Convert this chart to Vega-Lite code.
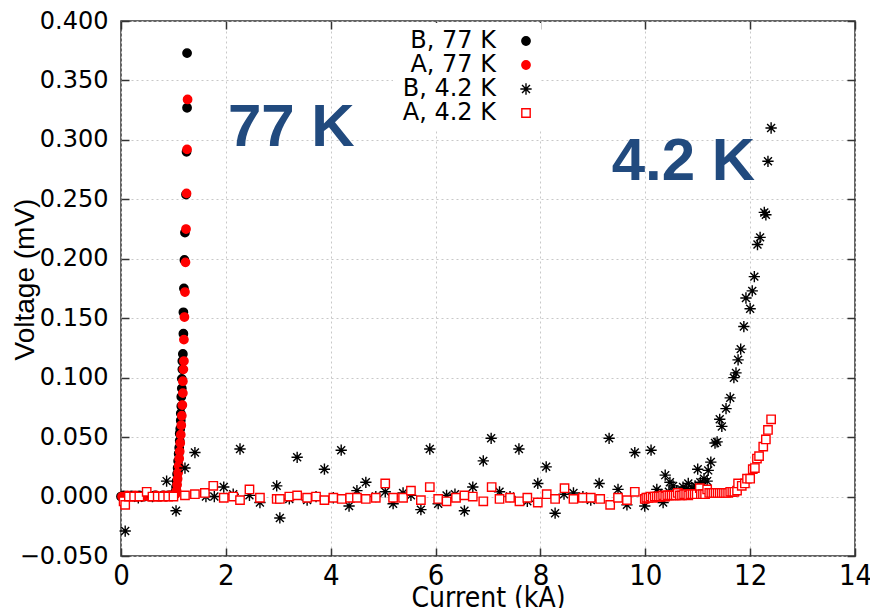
{
  "$schema": "https://vega.github.io/schema/vega-lite/v6.json",
  "width": 734,
  "height": 535,
  "autosize": "none",
  "padding": {"left": 121, "top": 21, "right": 15, "bottom": 52},
  "background": "white",
  "config": {
    "view": {"stroke": "#333333", "strokeWidth": 1.5},
    "axis": {"domain": false, "labelColor": "black", "titleColor": "black", "tickColor": "#333333", "tickWidth": 1.5, "tickSize": -8, "gridColor": "#c8c8c8", "gridDash": [2, 3], "gridWidth": 1}
  },
  "datasets": {
    "pts": [
      {"s":"B, 77 K","I":0.00,"V":0.000},{"s":"B, 77 K","I":0.05,"V":0.001},{"s":"B, 77 K","I":0.10,"V":0.000},{"s":"B, 77 K","I":0.15,"V":0.000},{"s":"B, 77 K","I":0.20,"V":0.001},{"s":"B, 77 K","I":0.25,"V":0.000},{"s":"B, 77 K","I":0.30,"V":0.000},{"s":"B, 77 K","I":0.35,"V":0.001},{"s":"B, 77 K","I":0.40,"V":0.000},{"s":"B, 77 K","I":0.45,"V":0.000},{"s":"B, 77 K","I":0.50,"V":0.001},{"s":"B, 77 K","I":0.55,"V":0.000},{"s":"B, 77 K","I":0.60,"V":0.000},{"s":"B, 77 K","I":0.65,"V":0.001},{"s":"B, 77 K","I":0.70,"V":0.000},{"s":"B, 77 K","I":0.75,"V":0.000},{"s":"B, 77 K","I":0.80,"V":0.001},{"s":"B, 77 K","I":0.85,"V":0.000},{"s":"B, 77 K","I":0.90,"V":0.001},{"s":"B, 77 K","I":0.95,"V":0.001},{"s":"B, 77 K","I":1.00,"V":0.001},
      {"s":"B, 77 K","I":1.02,"V":0.002},{"s":"B, 77 K","I":1.04,"V":0.004},{"s":"B, 77 K","I":1.05,"V":0.008},{"s":"B, 77 K","I":1.06,"V":0.013},{"s":"B, 77 K","I":1.07,"V":0.019},{"s":"B, 77 K","I":1.08,"V":0.024},{"s":"B, 77 K","I":1.09,"V":0.030},{"s":"B, 77 K","I":1.10,"V":0.036},{"s":"B, 77 K","I":1.11,"V":0.041},{"s":"B, 77 K","I":1.12,"V":0.047},{"s":"B, 77 K","I":1.12,"V":0.053},{"s":"B, 77 K","I":1.13,"V":0.057},{"s":"B, 77 K","I":1.14,"V":0.064},{"s":"B, 77 K","I":1.14,"V":0.070},{"s":"B, 77 K","I":1.15,"V":0.076},{"s":"B, 77 K","I":1.15,"V":0.084},{"s":"B, 77 K","I":1.16,"V":0.091},{"s":"B, 77 K","I":1.16,"V":0.099},{"s":"B, 77 K","I":1.17,"V":0.107},{"s":"B, 77 K","I":1.17,"V":0.114},{"s":"B, 77 K","I":1.18,"V":0.120},{"s":"B, 77 K","I":1.19,"V":0.137},{"s":"B, 77 K","I":1.19,"V":0.155},{"s":"B, 77 K","I":1.20,"V":0.175},{"s":"B, 77 K","I":1.21,"V":0.199},{"s":"B, 77 K","I":1.22,"V":0.222},{"s":"B, 77 K","I":1.24,"V":0.254},{"s":"B, 77 K","I":1.25,"V":0.290},{"s":"B, 77 K","I":1.26,"V":0.327},{"s":"B, 77 K","I":1.26,"V":0.373},
      {"s":"A, 77 K","I":0.02,"V":0.000},{"s":"A, 77 K","I":0.07,"V":0.000},{"s":"A, 77 K","I":0.12,"V":0.001},{"s":"A, 77 K","I":0.17,"V":0.000},{"s":"A, 77 K","I":0.22,"V":0.000},{"s":"A, 77 K","I":0.27,"V":0.001},{"s":"A, 77 K","I":0.32,"V":0.000},{"s":"A, 77 K","I":0.37,"V":0.000},{"s":"A, 77 K","I":0.42,"V":0.000},{"s":"A, 77 K","I":0.47,"V":0.001},{"s":"A, 77 K","I":0.52,"V":0.000},{"s":"A, 77 K","I":0.57,"V":0.000},{"s":"A, 77 K","I":0.62,"V":0.000},{"s":"A, 77 K","I":0.67,"V":0.001},{"s":"A, 77 K","I":0.72,"V":0.000},{"s":"A, 77 K","I":0.77,"V":0.000},{"s":"A, 77 K","I":0.82,"V":0.001},{"s":"A, 77 K","I":0.87,"V":0.000},{"s":"A, 77 K","I":0.92,"V":0.001},{"s":"A, 77 K","I":0.97,"V":0.001},{"s":"A, 77 K","I":1.01,"V":0.001},
      {"s":"A, 77 K","I":1.04,"V":0.002},{"s":"A, 77 K","I":1.06,"V":0.005},{"s":"A, 77 K","I":1.07,"V":0.010},{"s":"A, 77 K","I":1.08,"V":0.015},{"s":"A, 77 K","I":1.09,"V":0.020},{"s":"A, 77 K","I":1.10,"V":0.026},{"s":"A, 77 K","I":1.11,"V":0.032},{"s":"A, 77 K","I":1.12,"V":0.038},{"s":"A, 77 K","I":1.13,"V":0.045},{"s":"A, 77 K","I":1.14,"V":0.052},{"s":"A, 77 K","I":1.15,"V":0.060},{"s":"A, 77 K","I":1.16,"V":0.068},{"s":"A, 77 K","I":1.17,"V":0.077},{"s":"A, 77 K","I":1.18,"V":0.087},{"s":"A, 77 K","I":1.18,"V":0.097},{"s":"A, 77 K","I":1.19,"V":0.107},{"s":"A, 77 K","I":1.20,"V":0.114},{"s":"A, 77 K","I":1.20,"V":0.132},{"s":"A, 77 K","I":1.21,"V":0.151},{"s":"A, 77 K","I":1.22,"V":0.172},{"s":"A, 77 K","I":1.23,"V":0.197},{"s":"A, 77 K","I":1.24,"V":0.225},{"s":"A, 77 K","I":1.25,"V":0.255},{"s":"A, 77 K","I":1.26,"V":0.292},{"s":"A, 77 K","I":1.27,"V":0.334},
      {"s":"B, 4.2 K","I":0.08,"V":-0.029},{"s":"B, 4.2 K","I":0.33,"V":-0.001},{"s":"B, 4.2 K","I":0.60,"V":0.000},{"s":"B, 4.2 K","I":0.87,"V":0.013},{"s":"B, 4.2 K","I":1.05,"V":-0.012},{"s":"B, 4.2 K","I":1.22,"V":0.024},{"s":"B, 4.2 K","I":1.41,"V":0.037},{"s":"B, 4.2 K","I":1.62,"V":0.000},{"s":"B, 4.2 K","I":1.78,"V":0.000},{"s":"B, 4.2 K","I":1.96,"V":0.008},{"s":"B, 4.2 K","I":2.14,"V":0.002},{"s":"B, 4.2 K","I":2.27,"V":0.040},{"s":"B, 4.2 K","I":2.45,"V":0.001},{"s":"B, 4.2 K","I":2.65,"V":-0.005},{"s":"B, 4.2 K","I":2.97,"V":0.009},{"s":"B, 4.2 K","I":3.03,"V":-0.018},{"s":"B, 4.2 K","I":3.21,"V":-0.002},{"s":"B, 4.2 K","I":3.36,"V":0.033},{"s":"B, 4.2 K","I":3.55,"V":-0.003},{"s":"B, 4.2 K","I":3.72,"V":0.000},{"s":"B, 4.2 K","I":3.88,"V":0.023},{"s":"B, 4.2 K","I":4.05,"V":-0.001},{"s":"B, 4.2 K","I":4.20,"V":0.039},{"s":"B, 4.2 K","I":4.35,"V":-0.008},{"s":"B, 4.2 K","I":4.50,"V":0.005},{"s":"B, 4.2 K","I":4.67,"V":0.012},{"s":"B, 4.2 K","I":4.86,"V":0.000},{"s":"B, 4.2 K","I":5.04,"V":0.004},{"s":"B, 4.2 K","I":5.19,"V":-0.006},{"s":"B, 4.2 K","I":5.38,"V":0.003},{"s":"B, 4.2 K","I":5.53,"V":0.001},{"s":"B, 4.2 K","I":5.72,"V":-0.011},{"s":"B, 4.2 K","I":5.89,"V":0.040},{"s":"B, 4.2 K","I":6.05,"V":-0.006},{"s":"B, 4.2 K","I":6.21,"V":0.001},{"s":"B, 4.2 K","I":6.37,"V":0.002},{"s":"B, 4.2 K","I":6.55,"V":-0.012},{"s":"B, 4.2 K","I":6.71,"V":0.008},{"s":"B, 4.2 K","I":6.91,"V":0.030},{"s":"B, 4.2 K","I":7.06,"V":0.049},{"s":"B, 4.2 K","I":7.22,"V":0.004},{"s":"B, 4.2 K","I":7.42,"V":0.000},{"s":"B, 4.2 K","I":7.59,"V":0.040},{"s":"B, 4.2 K","I":7.75,"V":-0.004},{"s":"B, 4.2 K","I":7.95,"V":0.011},{"s":"B, 4.2 K","I":8.11,"V":0.025},{"s":"B, 4.2 K","I":8.28,"V":-0.014},{"s":"B, 4.2 K","I":8.45,"V":0.002},{"s":"B, 4.2 K","I":8.63,"V":0.003},{"s":"B, 4.2 K","I":8.81,"V":0.000},{"s":"B, 4.2 K","I":8.96,"V":-0.003},{"s":"B, 4.2 K","I":9.12,"V":0.011},{"s":"B, 4.2 K","I":9.31,"V":0.049},{"s":"B, 4.2 K","I":9.48,"V":0.006},{"s":"B, 4.2 K","I":9.65,"V":-0.007},{"s":"B, 4.2 K","I":9.80,"V":0.037},{"s":"B, 4.2 K","I":9.99,"V":-0.008},{"s":"B, 4.2 K","I":10.11,"V":0.039},{"s":"B, 4.2 K","I":10.22,"V":0.006},{"s":"B, 4.2 K","I":10.25,"V":0.003},{"s":"B, 4.2 K","I":10.34,"V":-0.005},{"s":"B, 4.2 K","I":10.38,"V":0.018},{"s":"B, 4.2 K","I":10.45,"V":0.004},{"s":"B, 4.2 K","I":10.47,"V":0.012},{"s":"B, 4.2 K","I":10.53,"V":0.009},{"s":"B, 4.2 K","I":10.60,"V":0.005},{"s":"B, 4.2 K","I":10.65,"V":0.003},{"s":"B, 4.2 K","I":10.72,"V":0.008},{"s":"B, 4.2 K","I":10.78,"V":0.006},{"s":"B, 4.2 K","I":10.82,"V":0.011},{"s":"B, 4.2 K","I":10.89,"V":0.007},{"s":"B, 4.2 K","I":10.95,"V":0.009},{"s":"B, 4.2 K","I":11.00,"V":0.023},{"s":"B, 4.2 K","I":11.05,"V":0.012},{"s":"B, 4.2 K","I":11.08,"V":0.008},{"s":"B, 4.2 K","I":11.12,"V":0.015},{"s":"B, 4.2 K","I":11.14,"V":0.005},{"s":"B, 4.2 K","I":11.18,"V":0.013},{"s":"B, 4.2 K","I":11.20,"V":0.022},{"s":"B, 4.2 K","I":11.25,"V":0.029},{"s":"B, 4.2 K","I":11.33,"V":0.045},{"s":"B, 4.2 K","I":11.37,"V":0.046},{"s":"B, 4.2 K","I":11.42,"V":0.065},{"s":"B, 4.2 K","I":11.46,"V":0.059},{"s":"B, 4.2 K","I":11.54,"V":0.074},{"s":"B, 4.2 K","I":11.62,"V":0.083},{"s":"B, 4.2 K","I":11.69,"V":0.100},{"s":"B, 4.2 K","I":11.73,"V":0.104},{"s":"B, 4.2 K","I":11.77,"V":0.115},{"s":"B, 4.2 K","I":11.82,"V":0.124},{"s":"B, 4.2 K","I":11.88,"V":0.143},{"s":"B, 4.2 K","I":11.92,"V":0.167},{"s":"B, 4.2 K","I":12.00,"V":0.158},{"s":"B, 4.2 K","I":12.04,"V":0.173},{"s":"B, 4.2 K","I":12.08,"V":0.185},{"s":"B, 4.2 K","I":12.14,"V":0.212},{"s":"B, 4.2 K","I":12.19,"V":0.218},{"s":"B, 4.2 K","I":12.27,"V":0.239},{"s":"B, 4.2 K","I":12.30,"V":0.237},{"s":"B, 4.2 K","I":12.34,"V":0.282},{"s":"B, 4.2 K","I":12.40,"V":0.310},
      {"s":"A, 4.2 K","I":0.05,"V":-0.004},{"s":"A, 4.2 K","I":0.08,"V":-0.007},{"s":"A, 4.2 K","I":0.15,"V":0.000},{"s":"A, 4.2 K","I":0.25,"V":0.000},{"s":"A, 4.2 K","I":0.35,"V":0.000},{"s":"A, 4.2 K","I":0.49,"V":0.004},{"s":"A, 4.2 K","I":0.60,"V":0.000},{"s":"A, 4.2 K","I":0.70,"V":0.000},{"s":"A, 4.2 K","I":0.80,"V":0.000},{"s":"A, 4.2 K","I":0.90,"V":0.000},{"s":"A, 4.2 K","I":1.00,"V":0.000},{"s":"A, 4.2 K","I":1.22,"V":0.001},{"s":"A, 4.2 K","I":1.41,"V":0.002},{"s":"A, 4.2 K","I":1.60,"V":0.003},{"s":"A, 4.2 K","I":1.76,"V":0.009},{"s":"A, 4.2 K","I":1.96,"V":-0.001},{"s":"A, 4.2 K","I":2.14,"V":0.000},{"s":"A, 4.2 K","I":2.27,"V":-0.003},{"s":"A, 4.2 K","I":2.45,"V":0.006},{"s":"A, 4.2 K","I":2.65,"V":-0.001},{"s":"A, 4.2 K","I":2.97,"V":-0.002},{"s":"A, 4.2 K","I":3.03,"V":-0.002},{"s":"A, 4.2 K","I":3.21,"V":0.000},{"s":"A, 4.2 K","I":3.36,"V":0.001},{"s":"A, 4.2 K","I":3.55,"V":-0.001},{"s":"A, 4.2 K","I":3.72,"V":0.000},{"s":"A, 4.2 K","I":3.88,"V":-0.003},{"s":"A, 4.2 K","I":4.05,"V":-0.001},{"s":"A, 4.2 K","I":4.21,"V":-0.002},{"s":"A, 4.2 K","I":4.37,"V":-0.001},{"s":"A, 4.2 K","I":4.50,"V":-0.001},{"s":"A, 4.2 K","I":4.67,"V":-0.002},{"s":"A, 4.2 K","I":4.86,"V":-0.001},{"s":"A, 4.2 K","I":5.04,"V":0.011},{"s":"A, 4.2 K","I":5.19,"V":-0.001},{"s":"A, 4.2 K","I":5.38,"V":-0.001},{"s":"A, 4.2 K","I":5.53,"V":0.005},{"s":"A, 4.2 K","I":5.72,"V":-0.003},{"s":"A, 4.2 K","I":5.89,"V":0.008},{"s":"A, 4.2 K","I":6.05,"V":-0.002},{"s":"A, 4.2 K","I":6.21,"V":-0.004},{"s":"A, 4.2 K","I":6.39,"V":-0.001},{"s":"A, 4.2 K","I":6.55,"V":0.001},{"s":"A, 4.2 K","I":6.71,"V":0.000},{"s":"A, 4.2 K","I":6.91,"V":-0.004},{"s":"A, 4.2 K","I":7.07,"V":0.008},{"s":"A, 4.2 K","I":7.22,"V":-0.002},{"s":"A, 4.2 K","I":7.42,"V":-0.001},{"s":"A, 4.2 K","I":7.60,"V":-0.004},{"s":"A, 4.2 K","I":7.75,"V":-0.001},{"s":"A, 4.2 K","I":7.95,"V":-0.005},{"s":"A, 4.2 K","I":8.12,"V":0.002},{"s":"A, 4.2 K","I":8.28,"V":-0.002},{"s":"A, 4.2 K","I":8.46,"V":0.007},{"s":"A, 4.2 K","I":8.63,"V":-0.002},{"s":"A, 4.2 K","I":8.81,"V":-0.001},{"s":"A, 4.2 K","I":8.96,"V":-0.001},{"s":"A, 4.2 K","I":9.14,"V":-0.002},{"s":"A, 4.2 K","I":9.33,"V":-0.007},{"s":"A, 4.2 K","I":9.48,"V":-0.001},{"s":"A, 4.2 K","I":9.65,"V":-0.003},{"s":"A, 4.2 K","I":9.80,"V":0.004},{"s":"A, 4.2 K","I":9.99,"V":-0.002},
      {"s":"A, 4.2 K","I":10.02,"V":-0.001},{"s":"A, 4.2 K","I":10.06,"V":-0.001},{"s":"A, 4.2 K","I":10.10,"V":0.000},{"s":"A, 4.2 K","I":10.14,"V":-0.001},{"s":"A, 4.2 K","I":10.18,"V":0.000},{"s":"A, 4.2 K","I":10.22,"V":0.000},{"s":"A, 4.2 K","I":10.26,"V":0.000},{"s":"A, 4.2 K","I":10.30,"V":0.000},{"s":"A, 4.2 K","I":10.34,"V":0.001},{"s":"A, 4.2 K","I":10.38,"V":0.000},{"s":"A, 4.2 K","I":10.42,"V":0.001},{"s":"A, 4.2 K","I":10.46,"V":0.001},{"s":"A, 4.2 K","I":10.50,"V":0.001},{"s":"A, 4.2 K","I":10.54,"V":0.001},{"s":"A, 4.2 K","I":10.58,"V":0.001},{"s":"A, 4.2 K","I":10.62,"V":0.003},{"s":"A, 4.2 K","I":10.66,"V":0.001},{"s":"A, 4.2 K","I":10.70,"V":0.001},{"s":"A, 4.2 K","I":10.74,"V":0.002},{"s":"A, 4.2 K","I":10.78,"V":0.002},{"s":"A, 4.2 K","I":10.82,"V":0.001},{"s":"A, 4.2 K","I":10.86,"V":0.002},{"s":"A, 4.2 K","I":10.90,"V":0.002},{"s":"A, 4.2 K","I":10.94,"V":0.002},{"s":"A, 4.2 K","I":10.98,"V":0.002},{"s":"A, 4.2 K","I":11.04,"V":0.007},{"s":"A, 4.2 K","I":11.06,"V":0.002},{"s":"A, 4.2 K","I":11.10,"V":0.002},{"s":"A, 4.2 K","I":11.14,"V":0.002},{"s":"A, 4.2 K","I":11.18,"V":0.006},{"s":"A, 4.2 K","I":11.22,"V":0.003},{"s":"A, 4.2 K","I":11.26,"V":0.003},{"s":"A, 4.2 K","I":11.30,"V":0.003},{"s":"A, 4.2 K","I":11.34,"V":0.003},{"s":"A, 4.2 K","I":11.38,"V":0.003},{"s":"A, 4.2 K","I":11.42,"V":0.003},{"s":"A, 4.2 K","I":11.46,"V":0.003},{"s":"A, 4.2 K","I":11.50,"V":0.003},{"s":"A, 4.2 K","I":11.54,"V":0.003},{"s":"A, 4.2 K","I":11.58,"V":0.003},{"s":"A, 4.2 K","I":11.62,"V":0.004},{"s":"A, 4.2 K","I":11.66,"V":0.004},{"s":"A, 4.2 K","I":11.70,"V":0.004},
      {"s":"A, 4.2 K","I":11.75,"V":0.005},{"s":"A, 4.2 K","I":11.77,"V":0.011},{"s":"A, 4.2 K","I":11.84,"V":0.009},{"s":"A, 4.2 K","I":11.90,"V":0.011},{"s":"A, 4.2 K","I":11.94,"V":0.015},{"s":"A, 4.2 K","I":12.00,"V":0.015},{"s":"A, 4.2 K","I":12.05,"V":0.023},{"s":"A, 4.2 K","I":12.09,"V":0.024},{"s":"A, 4.2 K","I":12.13,"V":0.032},{"s":"A, 4.2 K","I":12.17,"V":0.034},{"s":"A, 4.2 K","I":12.25,"V":0.042},{"s":"A, 4.2 K","I":12.30,"V":0.048},{"s":"A, 4.2 K","I":12.34,"V":0.056},{"s":"A, 4.2 K","I":12.40,"V":0.065}
    ],
    "labels": [
      {"t": "77 K", "I": 2.04, "V": 0.295},
      {"t": "4.2 K", "I": 9.36, "V": 0.266}
    ]
  },
  "layer": [
    {
      "data": {"name": "pts"},
      "mark": {"type": "point", "size": 70, "strokeWidth": 1.6, "opacity": 1},
      "encoding": {
        "x": {"field": "I", "type": "quantitative", "scale": {"domain": [0, 14], "nice": false, "zero": false},
          "axis": {"orient": "bottom", "values": [0, 2, 4, 6, 8, 10, 12, 14], "title": "Current (kA)", "titleFont": "DejaVu Sans Condensed", "titleFontSize": 28, "titleFontWeight": "normal", "titleBaseline": "alphabetic", "titleY": 50, "labelFont": "DejaVu Sans Condensed", "labelFontSize": 29, "labelPadding": 13, "grid": true, "labelFlush": false}},
        "y": {"field": "V", "type": "quantitative", "scale": {"domain": [-0.05, 0.4], "nice": false, "zero": false},
          "axis": {"orient": "left", "values": [-0.05, 0, 0.05, 0.1, 0.15, 0.2, 0.25, 0.3, 0.35, 0.4], "format": ".3f", "title": "Voltage (mV)", "titleFont": "Liberation Sans", "titleFontSize": 28, "titleFontWeight": "normal", "titleAngle": -90, "titleBaseline": "alphabetic", "titleX": -88, "titleY": 258, "labelFont": "DejaVu Sans", "labelFontSize": 24, "labelPadding": 21, "grid": true, "labelFlush": false}},
        "shape": {"field": "s", "type": "nominal",
          "scale": {"domain": ["B, 77 K", "A, 77 K", "B, 4.2 K", "A, 4.2 K"], "range": ["circle", "circle", "M-1.35,0H1.35M0,-1.35V1.35M-0.95,-0.95L0.95,0.95M-0.95,0.95L0.95,-0.95", "square"]},
          "legend": {"orient": "none", "legendX": 272, "legendY": 2, "title": null, "labelFont": "DejaVu Sans", "labelFontSize": 24, "labelColor": "black", "labelAlign": "right", "labelOffset": -42, "symbolOffset": 115, "fillColor": "white", "padding": 6, "rowPadding": -2, "symbolStrokeWidth": 1.8, "symbolSize": 70, "labelLimit": 0}},
        "fill": {"field": "s", "type": "nominal",
          "scale": {"domain": ["B, 77 K", "A, 77 K", "B, 4.2 K", "A, 4.2 K"], "range": ["black", "red", "black", "white"]}},
        "stroke": {"field": "s", "type": "nominal",
          "scale": {"domain": ["B, 77 K", "A, 77 K", "B, 4.2 K", "A, 4.2 K"], "range": ["black", "red", "black", "red"]}},
        "strokeWidth": {"field": "s", "type": "nominal",
          "scale": {"domain": ["B, 77 K", "A, 77 K", "B, 4.2 K", "A, 4.2 K"], "range": [1.4, 1.4, 2.2, 1.8]}, "legend": null}
      }
    },
    {
      "data": {"name": "labels"},
      "mark": {"type": "text", "font": "Liberation Sans", "fontWeight": "bold", "fontSize": 60, "color": "#214a7e", "align": "left", "baseline": "alphabetic"},
      "encoding": {
        "x": {"field": "I", "type": "quantitative", "axis": {"orient": "top", "values": [0, 2, 4, 6, 8, 10, 12, 14], "labels": false, "grid": false, "title": null}},
        "y": {"field": "V", "type": "quantitative", "axis": {"orient": "right", "values": [-0.05, 0, 0.05, 0.1, 0.15, 0.2, 0.25, 0.3, 0.35, 0.4], "labels": false, "grid": false, "title": null}},
        "text": {"field": "t", "type": "nominal"}
      }
    }
  ],
  "resolve": {"axis": {"x": "independent", "y": "independent"}}
}
